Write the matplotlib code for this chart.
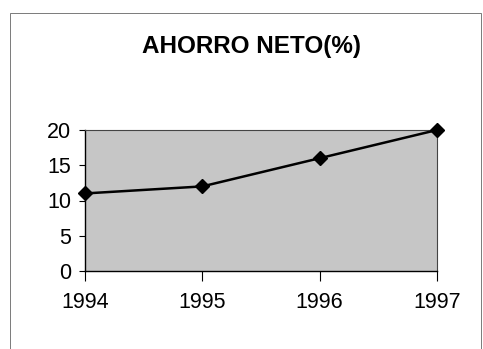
import matplotlib as mpl

mpl.use("Agg")

import matplotlib.pyplot as plt
from matplotlib.patches import Rectangle

years = ["1994", "1995", "1996", "1997"]
ahorro = [11, 12, 16, 20]
y_ticks = [0, 5, 10, 15, 20]

plt.rcParams["font.family"] = ["Liberation Sans", "DejaVu Sans"]

fig = plt.figure(figsize=(4.83, 3.49), dpi=100)
fig.patch.set_facecolor("white")

# outer chart frame (bottom edge runs off the page)
fig.add_artist(Rectangle((10 / 483, -0.05), 471 / 483, 1.05 - 13 / 349,
                         transform=fig.transFigure, fill=False,
                         edgecolor="#7a7a7a", linewidth=0.7))

fig.text(252 / 483, 1 - 46 / 349, "AHORRO NETO(%)", ha="center", va="center",
         fontsize=17.5, fontweight="bold")

ax = fig.add_axes([85 / 483, 1 - 271 / 349, 352 / 483, 141 / 349])
ax.set_facecolor("#c6c6c6")
x = list(range(len(years)))
ax.plot(x, ahorro, color="black", linewidth=1.8, marker="D", markersize=7,
        clip_on=False, zorder=3)

ax.set_xlim(0, len(years) - 1)
ax.set_ylim(0, 20)
ax.set_xticks(x)
ax.set_xticklabels(years)
ax.set_yticks(y_ticks)
ax.tick_params(axis="y", direction="out", length=4, width=0.8, labelsize=15.5, pad=6)
ax.tick_params(axis="x", direction="out", length=7, width=0.8, labelsize=15.5, pad=8)

for side in ("left", "bottom"):
    ax.spines[side].set_color("black")
    ax.spines[side].set_linewidth(1.0)
for side in ("top", "right"):
    ax.spines[side].set_color("#444444")
    ax.spines[side].set_linewidth(0.8)

fig.savefig("out.png", dpi=100, facecolor="white")
